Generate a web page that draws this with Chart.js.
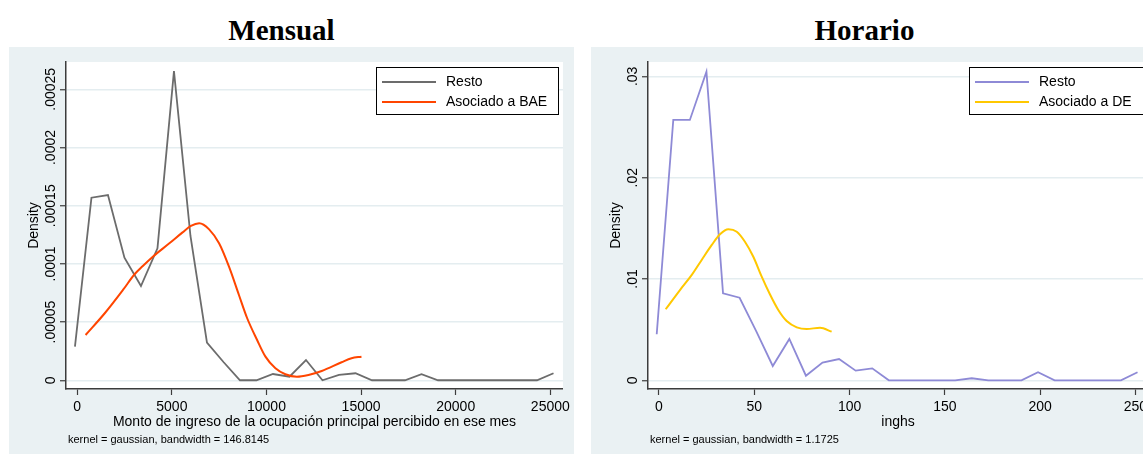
<!DOCTYPE html>
<html>
<head>
<meta charset="utf-8">
<script src="https://cdn.jsdelivr.net/npm/chart.js@4.4.1/dist/chart.umd.min.js"></script>
<style>
  html, body { margin: 0; padding: 0; background: #fff; }
  body { width: 1143px; height: 455px; overflow: hidden; position: relative; }
  .title {
    position: absolute; top: 14px; line-height: 29px; text-align: center; color: #000;
    font: bold 29px "Liberation Serif", "Times New Roman", serif;
  }
  .panel { position: absolute; top: 47px; width: 565px; height: 407px; background: #eaf1f3; }
  canvas { display: block; }
</style>
</head>
<body>
<div class="title" style="left:9px;width:545px">Mensual</div>
<div class="title" style="left:591px;width:547px">Horario</div>
<div class="panel" style="left:9px"><canvas id="mensual" width="565" height="407"></canvas></div>
<div class="panel" style="left:591px"><canvas id="horario" width="565" height="407"></canvas></div>
<script>
// ---- Mensual: monthly income densities ----
const mensualRestoX = [-120, 752, 1624, 2496, 3368, 4240, 5112, 5984, 6856, 7728, 8600, 9472, 10344, 11216, 12088,
  12960, 13832, 14704, 15576, 16448, 17320, 18192, 19064, 19936, 20808, 21680, 22552, 23424, 24296, 25168];
const mensualResto = [0.0000289, 0.0001569, 0.0001592, 0.0001053, 0.0000810, 0.0001134, 0.0002657, 0.0001240,
  0.0000323, 0.0000157, 0, 0, 0.0000054, 0.0000031, 0.0000174, 0, 0.0000046, 0.0000060, 0, 0, 0, 0.0000052,
  0, 0, 0, 0, 0, 0, 0, 0.0000060];
const mensualBaeX = [441, 1455, 2416, 3030, 3466, 3992, 4869, 5567, 6008, 6444, 6970, 7495, 8020, 8545, 8981,
  9506, 9947, 10473, 10998, 11607, 12221, 12920, 13970, 14495, 15021];
const mensualBae = [0.0000389, 0.0000576, 0.0000776, 0.0000911, 0.0000982, 0.0001062, 0.0001177, 0.0001271,
  0.0001326, 0.0001349, 0.0001297, 0.0001177, 0.0000976, 0.0000733, 0.0000533, 0.0000346, 0.0000203,
  0.0000103, 0.0000052, 0.0000031, 0.0000046, 0.0000080, 0.0000155, 0.0000189, 0.0000203];
const mensualXTicks = [0, 5000, 10000, 15000, 20000, 25000];
const mensualYTicks = [0, 0.00005, 0.0001, 0.00015, 0.0002, 0.00025];
const mensualYLabels = ['0', '.00005', '.0001', '.00015', '.0002', '.00025'];

// ---- Horario: hourly income densities ----
const horarioRestoX = [-1.2, 7.5, 16.2, 24.9, 33.6, 42.3, 51.0, 59.7, 68.4, 77.1, 85.8, 94.5, 103.2, 111.9, 120.6,
  129.3, 138.0, 146.7, 155.4, 164.1, 172.8, 181.5, 190.2, 198.9, 207.6, 216.3, 225.0, 233.7, 242.4, 251.1];
const horarioResto = [0.00454, 0.02570, 0.02570, 0.03046, 0.00859, 0.00815, 0.00485, 0.00141, 0.00408, 0.00045,
  0.00174, 0.00210, 0.00095, 0.00118, 0, 0, 0, 0, 0, 0.00020, 0, 0, 0, 0.00079, 0, 0, 0, 0, 0, 0.00079];
const horarioDeX = [3.5, 11.0, 17.2, 22.4, 27.7, 32.0, 36.4, 40.8, 45.1, 49.5, 53.9, 58.2, 62.6, 67.0, 72.3, 77.5, 84.5, 90.6];
const horarioDe = [0.00701, 0.00891, 0.01040, 0.01188, 0.01336, 0.01441, 0.01491, 0.01467, 0.01368, 0.01220,
  0.01023, 0.00849, 0.00694, 0.00585, 0.00523, 0.00506, 0.00519, 0.00480];
const horarioXTicks = [0, 50, 100, 150, 200, 250];
const horarioYTicks = [0, 0.01, 0.02, 0.03];
const horarioYLabels = ['0', '.01', '.02', '.03'];

const SANS = '"Liberation Sans", Arial, sans-serif';
const AXIS_COLOR = '#3c3c3c';

function pts(xs, ys) { return xs.map((x, i) => ({ x: x, y: ys[i] })); }

// White plot region, rotated y labels, axis titles, note and boxed legend
const stataDecor = {
  id: 'stataDecor',
  beforeDraw(chart) {
    const { ctx, chartArea: a } = chart;
    ctx.save();
    ctx.fillStyle = '#ffffff';
    ctx.fillRect(a.left, a.top, a.right - a.left, a.bottom - a.top);
    ctx.restore();
  },
  afterDraw(chart, args, o) {
    const { ctx, chartArea: a } = chart;
    const ys = chart.scales.y;
    ctx.save();
    ctx.fillStyle = '#000';
    ctx.font = '14px ' + SANS;
    o.yTicks.forEach((v, i) => {
      const py = ys.getPixelForValue(v);
      ctx.save();
      ctx.translate(a.left - 11, py);
      ctx.rotate(-Math.PI / 2);
      ctx.textAlign = 'center';
      ctx.textBaseline = 'alphabetic';
      ctx.fillText(o.yLabels[i], 0, 0);
      ctx.restore();
    });
    ctx.save();
    ctx.translate(a.left - 28.5, (a.top + a.bottom) / 2);
    ctx.rotate(-Math.PI / 2);
    ctx.textAlign = 'center';
    ctx.textBaseline = 'alphabetic';
    ctx.fillText(o.yTitle, 0, 0);
    ctx.restore();

    ctx.textAlign = 'center';
    ctx.textBaseline = 'alphabetic';
    ctx.fillText(o.xTitle, (a.left + a.right) / 2, a.bottom + 37);

    ctx.font = '11px ' + SANS;
    ctx.textAlign = 'left';
    ctx.fillText(o.note, a.left + 2, a.bottom + 54);

    // legend
    ctx.font = '14px ' + SANS;
    const ds = chart.data.datasets;
    const tw = Math.max.apply(null, ds.map(d => ctx.measureText(d.label).width));
    const w = Math.round(6 + 54 + 10 + tw + 11);
    const h = 47;
    const bx = Math.round(a.right - 5 - w), by = Math.round(a.top + 5);
    ctx.fillStyle = '#fff';
    ctx.fillRect(bx, by, w, h);
    ctx.strokeStyle = '#000';
    ctx.lineWidth = 1;
    ctx.strokeRect(bx + 0.5, by + 0.5, w, h);
    ds.forEach((d, i) => {
      const cy = by + 15 + i * 20;
      ctx.strokeStyle = d.borderColor;
      ctx.lineWidth = 2;
      ctx.beginPath();
      ctx.moveTo(bx + 6, cy);
      ctx.lineTo(bx + 60, cy);
      ctx.stroke();
      ctx.fillStyle = '#000';
      ctx.textAlign = 'left';
      ctx.textBaseline = 'middle';
      ctx.fillText(d.label, bx + 70, cy);
    });
    ctx.restore();
  }
};

function makeChart(id, c) {
  return new Chart(document.getElementById(id), {
    type: 'line',
    data: {
      datasets: [
        { label: 'Resto', data: pts(c.restoX, c.resto), borderColor: c.restoColor, borderWidth: 1.8,
          pointRadius: 0, tension: 0, order: 1 },
        { label: c.otherLabel, data: pts(c.otherX, c.other), borderColor: c.otherColor, borderWidth: 2,
          pointRadius: 0, cubicInterpolationMode: 'monotone', order: 0 }
      ]
    },
    options: {
      responsive: false,
      animation: false,
      events: [],
      layout: { padding: { left: 0, top: 15, right: 8, bottom: 0 } },
      plugins: {
        legend: { display: false },
        tooltip: { enabled: false },
        stataDecor: { yTicks: c.yTicks, yLabels: c.yLabels, yTitle: 'Density', xTitle: c.xTitle, note: c.note }
      },
      scales: {
        x: {
          type: 'linear', min: c.xMin, max: c.xMax,
          afterBuildTicks: s => { s.ticks = c.xTicks.map(v => ({ value: v })); },
          afterFit: s => { s.height = 65; },
          ticks: { autoSkip: false, maxRotation: 0, minRotation: 0, padding: 4, color: '#000',
                   font: { family: SANS, size: 14 }, callback: v => String(v) },
          grid: { drawOnChartArea: false, drawTicks: true, tickLength: 6, tickColor: AXIS_COLOR, tickWidth: 1.2 },
          border: { display: true, color: AXIS_COLOR, width: 1.5 }
        },
        y: {
          type: 'linear', min: c.yMin, max: c.yMax,
          afterBuildTicks: s => { s.ticks = c.yTicks.map(v => ({ value: v })); },
          afterFit: s => { s.width = 57; },
          ticks: { display: false },
          grid: { color: '#e4edf0', lineWidth: 1.5, drawTicks: true, tickLength: 6, tickColor: AXIS_COLOR, tickWidth: 1.2 },
          border: { display: true, color: AXIS_COLOR, width: 1.5 }
        }
      }
    },
    plugins: [stataDecor]
  });
}

makeChart('mensual', {
  restoX: mensualRestoX, resto: mensualResto, restoColor: 'rgb(108,108,108)',
  otherX: mensualBaeX, other: mensualBae, otherColor: 'rgb(255,69,0)', otherLabel: 'Asociado a BAE',
  xMin: -593, xMax: 25667, yMin: -0.0000075, yMax: 0.0002735,
  xTicks: mensualXTicks, yTicks: mensualYTicks, yLabels: mensualYLabels,
  xTitle: 'Monto de ingreso de la ocupación principal percibido en ese mes',
  note: 'kernel = gaussian, bandwidth = 146.8145'
});

makeChart('horario', {
  restoX: horarioRestoX, resto: horarioResto, restoColor: 'rgb(142,138,214)',
  otherX: horarioDeX, other: horarioDe, otherColor: 'rgb(255,200,0)', otherLabel: 'Asociado a DE',
  xMin: -5.77, xMax: 256.6, yMin: -0.00086, yMax: 0.03142,
  xTicks: horarioXTicks, yTicks: horarioYTicks, yLabels: horarioYLabels,
  xTitle: 'inghs',
  note: 'kernel = gaussian, bandwidth = 1.1725'
});
</script>
</body>
</html>
